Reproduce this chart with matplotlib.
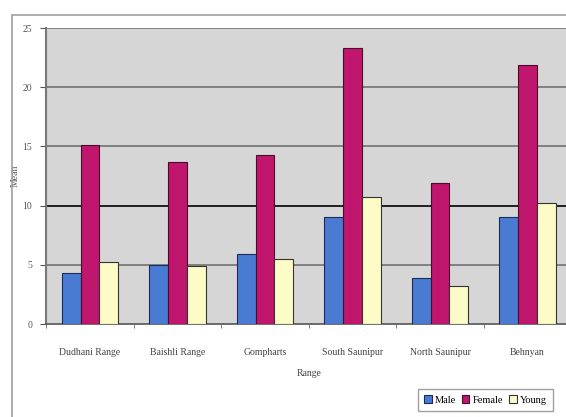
import numpy as np
import matplotlib
matplotlib.use("Agg")
import matplotlib.pyplot as plt
from matplotlib.patches import Rectangle

# data
ranges = ["Dudhani Range", "Baishli Range", "Gompharts", "South Saunipur",
          "North Saunipur", "Behnyan"]
male = [4.3, 5.0, 5.9, 9.0, 3.9, 9.0]
female = [15.1, 13.7, 14.3, 23.3, 11.9, 21.9]
young = [5.2, 4.9, 5.5, 10.7, 3.2, 10.2]
y_ticks = [0, 5, 10, 15, 20, 25]

plt.rcParams['font.family'] = ['Liberation Serif', 'DejaVu Serif']

fig = plt.figure(figsize=(5.66, 4.17), dpi=100)

# outer chart frame (cropped on the right and bottom in the original)
fig.patches.append(Rectangle((12 / 566, -0.05), 1.2, 1 - 15 / 417 + 0.05,
                             transform=fig.transFigure, fill=False,
                             edgecolor='#a0a0a0', linewidth=1.2))

ax = fig.add_axes([46.25 / 566, 1 - 324 / 417, 525 / 566, 296 / 417])
ax.set_facecolor('#d6d6d6')

x = np.arange(len(ranges))
w = 0.215
ax.bar(x - w, male, w, color='#4a7bd2', edgecolor='#1a2a5a', linewidth=0.8,
       label='Male', zorder=3)
ax.bar(x, female, w, color='#c0166e', edgecolor='#4a0a2a', linewidth=0.8,
       label='Female', zorder=3)
ax.bar(x + w, young, w, color='#fdfbc6', edgecolor='#333333', linewidth=0.8,
       label='Young', zorder=3)

ax.set_xlim(-0.5, len(ranges) - 0.5)
ax.set_ylim(0, 25)
ax.set_yticks(y_ticks)
ax.set_yticklabels([str(t) for t in y_ticks], fontsize=7, color='#555555')
ax.set_xticks(x)
ax.set_xticklabels(ranges, fontsize=7, color='#444444')
ax.set_xticks(np.arange(len(ranges) + 1) - 0.5, minor=True)
ax.tick_params(axis='x', which='major', length=0, pad=17)
ax.tick_params(axis='x', which='minor', length=3, color='#666666')
ax.tick_params(axis='y', length=4, color='#555555', pad=6)

for t in y_ticks:
    if t == 0:
        continue
    ax.axhline(t, color='#111111' if t == 10 else '#7a7a7a',
               linewidth=1.3, zorder=1)

for side in ['top', 'right']:
    ax.spines[side].set_visible(False)
ax.spines['left'].set_color('#777777')
ax.spines['left'].set_linewidth(1.5)
ax.spines['bottom'].set_color('#555555')
ax.spines['bottom'].set_linewidth(1.2)

ax.set_ylabel('Mean', fontsize=7, color='#555555', labelpad=2)
ax.set_xlabel('Range', fontsize=7, color='#444444', labelpad=9)

leg = fig.legend(loc='upper left', bbox_to_anchor=(418 / 566, 1 - 389 / 417),
                 ncol=3, fontsize=7.5, frameon=True, fancybox=False,
                 handlelength=0.7, handleheight=0.8, handletextpad=0.3,
                 columnspacing=0.6, borderpad=0.6, borderaxespad=0)
leg.get_frame().set_edgecolor('#888888')
leg.get_frame().set_linewidth(1.0)

fig.savefig('out.png', dpi=100)
